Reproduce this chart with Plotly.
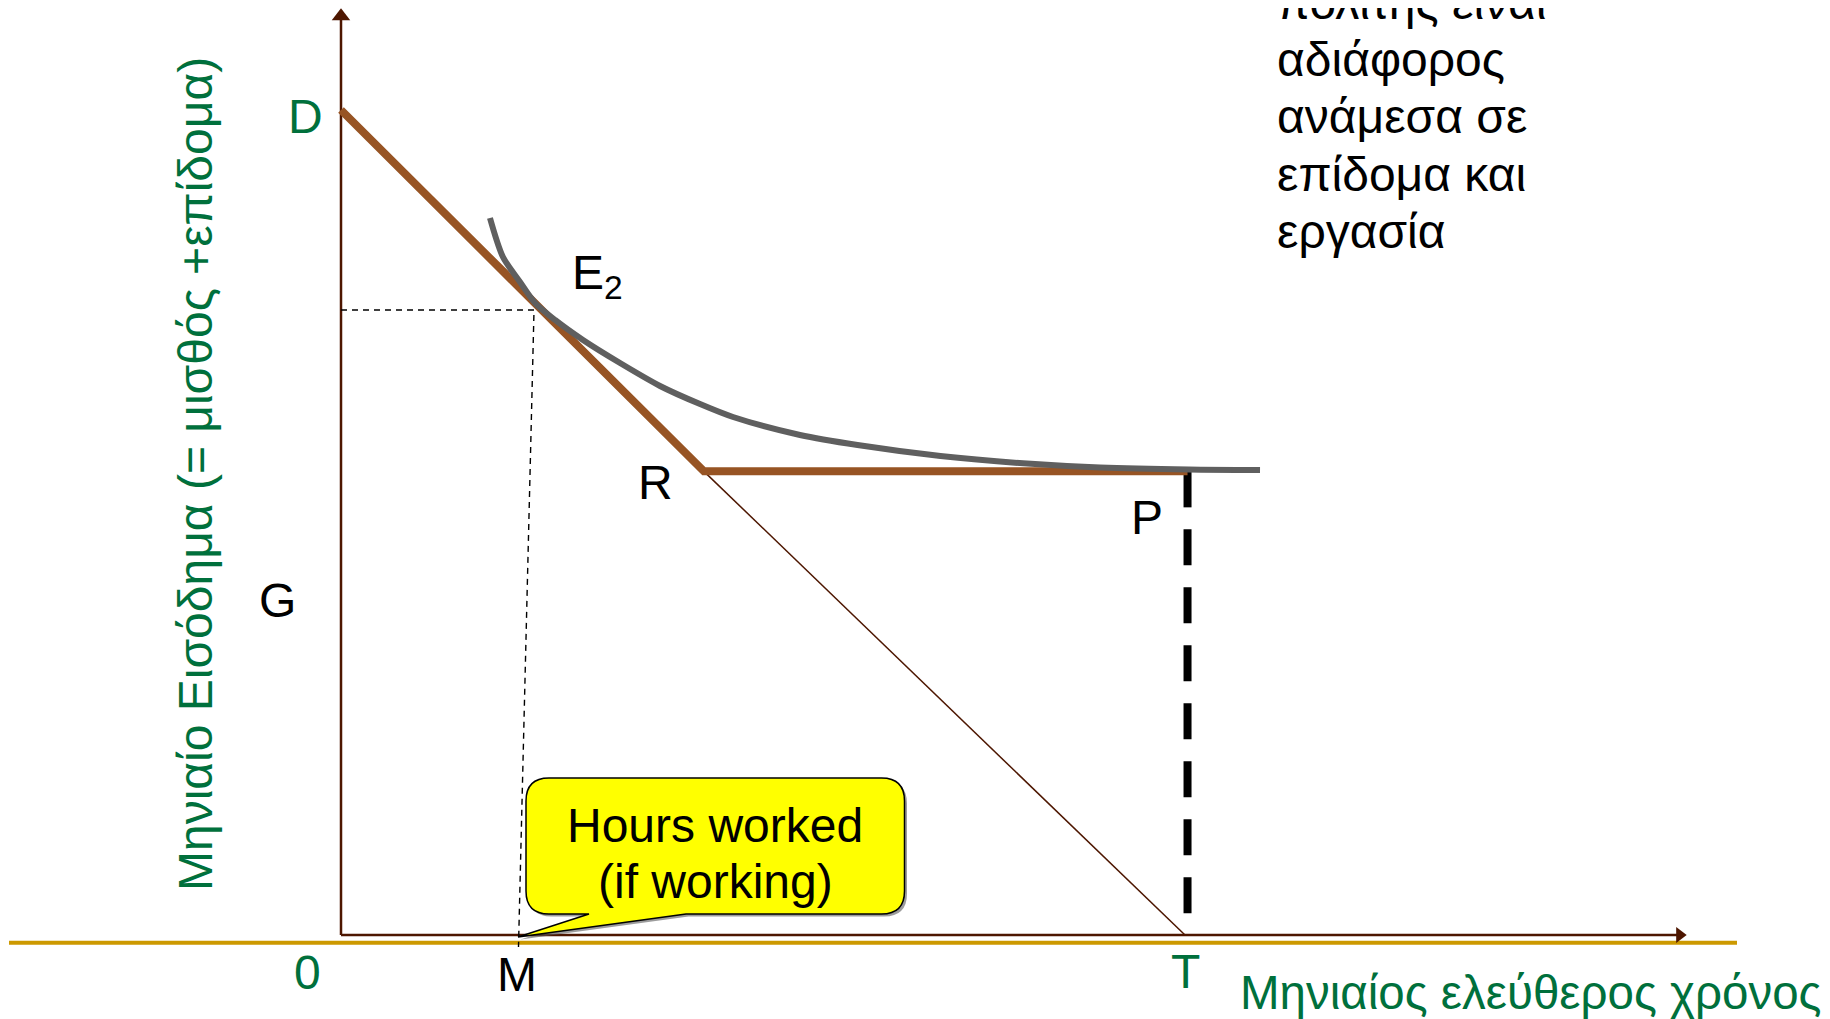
import plotly.graph_objects as go

# ---- data (leisure hours on x, monthly income on y; arbitrary units) ----
D_income = 100.0                 # intercept of the budget line
R_point = (43.0, 56.2)           # kink where the benefit takes over
T_hours = 100.0                  # total available time
P_hours = 100.3
G_level = 56.2                   # benefit level
E2_point = (22.87, 75.76)        # tangency / working choice
M_hours = 21.03

ic_x = [17.65, 19.19, 21.21, 22.99, 25.36, 28.67, 33.06, 37.80, 42.54, 46.45,
        54.38, 61.20, 71.03, 80.81, 89.93, 100.47, 108.89]
ic_y = [86.91, 82.18, 79.15, 76.61, 74.55, 72.12, 69.33, 66.55, 64.36, 62.79,
        60.61, 59.39, 58.06, 57.18, 56.67, 56.42, 56.36]

note_lines = ["πολίτης είναι", "αδιάφορος", "ανάμεσα σε", "επίδομα και", "εργασία"]
callout_lines = ["Hours worked", "(if working)"]
x_title = "Μηνιαίος ελεύθερος χρόνος"
y_title = "Μηνιαίο Εισόδημα (= μισθός +επίδομα)"

# ---- page geometry (pixel <-> data) ----
W, H = 1830, 1019
X0, Y0, SX, SY = 341, 935, 8.44, 8.25
PAGE_OFF = 8   # the page body margin shifts the figure


def dx(px):
    return (px - X0) / SX


def dy(py):
    return (Y0 - py) / SY


GREEN = "#00703C"
BROWN = "#975424"
AXIS = "#4D1600"
FONT = "Liberation Sans, Arial, sans-serif"

fig = go.Figure()

# gold base line
fig.add_trace(go.Scatter(x=[dx(9), dx(1737)], y=[dy(942.7)] * 2, mode="lines",
                         line=dict(color="#CC9900", width=4)))

# axes with arrow heads
fig.add_trace(go.Scatter(x=[0, dx(1680)], y=[0, 0], mode="lines",
                         line=dict(color=AXIS, width=2.5)))
fig.add_trace(go.Scatter(x=[0, 0], y=[0, dy(16.3)], mode="lines",
                         line=dict(color=AXIS, width=2.5)))
fig.add_trace(go.Scatter(x=[dx(1679.7)], y=[0], mode="markers",
                         marker=dict(symbol="triangle-right", size=14, color=AXIS)))
fig.add_trace(go.Scatter(x=[0], y=[dy(16.3)], mode="markers",
                         marker=dict(symbol="triangle-up", size=16, color=AXIS)))

# thin continuation of the budget line R -> T
fig.add_trace(go.Scatter(x=[R_point[0], T_hours], y=[R_point[1], 0], mode="lines",
                         line=dict(color=AXIS, width=1.5)))

# dashed guides to E2
fig.add_trace(go.Scatter(x=[0, E2_point[0], M_hours], y=[E2_point[1], E2_point[1], dy(947)],
                         mode="lines", line=dict(color="black", width=1.4, dash="6px,5px")))

# thick dashed drop P -> T
fig.add_trace(go.Scatter(x=[P_hours, P_hours], y=[G_level, 0], mode="lines",
                         line=dict(color="black", width=8, dash="36px,22px")))

# budget constraint with benefit
fig.add_trace(go.Scatter(x=[0, R_point[0], P_hours], y=[D_income, R_point[1], G_level],
                         mode="lines", line=dict(color=BROWN, width=8)))

# indifference curve
fig.add_trace(go.Scatter(x=ic_x, y=ic_y, mode="lines",
                         line=dict(color="#5F5F5F", width=6, shape="spline", smoothing=0.8)))


# callout bubble
def bubble(l, t, r, b, rad, tail_a, tail_b, tip, off=0):
    def p(x, y):
        return f"{dx(x + off):.3f},{dy(y + off):.3f}"
    return ("M" + p(l + rad, t) + " L" + p(r - rad, t) + " Q" + p(r, t) + " " + p(r, t + rad)
            + " L" + p(r, b - rad) + " Q" + p(r, b) + " " + p(r - rad, b)
            + " L" + p(tail_b, b) + " L" + p(*tip) + " L" + p(tail_a, b)
            + " L" + p(l + rad, b) + " Q" + p(l, b) + " " + p(l, b - rad)
            + " L" + p(l, t + rad) + " Q" + p(l, t) + " " + p(l + rad, t) + " Z")


fig.add_shape(type="path", path=bubble(526, 778, 904.5, 914, 23, 589, 686, (518, 937), off=2.5),
              fillcolor="rgba(90,90,90,0.6)", line=dict(width=0))
fig.add_shape(type="path", path=bubble(526, 778, 904.5, 914, 23, 589, 686, (518, 937)),
              fillcolor="#FFFF00", line=dict(color="black", width=1.5))


def label(text, px, py, color="black", size=48, xanchor="center", angle=0):
    # page pixels -> paper fractions (paper refs are never hidden off-range)
    fig.add_annotation(x=(px - PAGE_OFF) / W, y=1 - (py - PAGE_OFF) / H,
                       xref="paper", yref="paper", text=text, showarrow=False,
                       textangle=angle, xanchor=xanchor, yanchor="middle",
                       font=dict(family=FONT, size=size, color=color))


label("D", 305, 117, GREEN)
label("E<sub>2</sub>", 570, 276, xanchor="left")
label("R", 655, 482)
label("P", 1147, 518)
label("G", 277, 600)
label("0", 307, 972, GREEN)
label("M", 517, 974)
label("T", 1185, 971, GREEN)
label(x_title, 1238, 992, GREEN, size=47.5, xanchor="left")
label(y_title, 195, 474, GREEN, angle=-90)
for i, line in enumerate(callout_lines):
    label(line, 715, 825 + 56 * i)

for i, line in enumerate(note_lines):
    label(line, 1275, 2.5 + 57.2 * i, xanchor="left")

fig.update_layout(
    width=W, height=H,
    margin=dict(l=0, r=0, t=0, b=0),
    showlegend=False,
    plot_bgcolor="white", paper_bgcolor="white",
    xaxis=dict(range=[dx(PAGE_OFF), dx(PAGE_OFF + W)], visible=False, fixedrange=True),
    yaxis=dict(range=[dy(PAGE_OFF + H), dy(PAGE_OFF)], visible=False, fixedrange=True),
)

fig.write_html("out.html")
